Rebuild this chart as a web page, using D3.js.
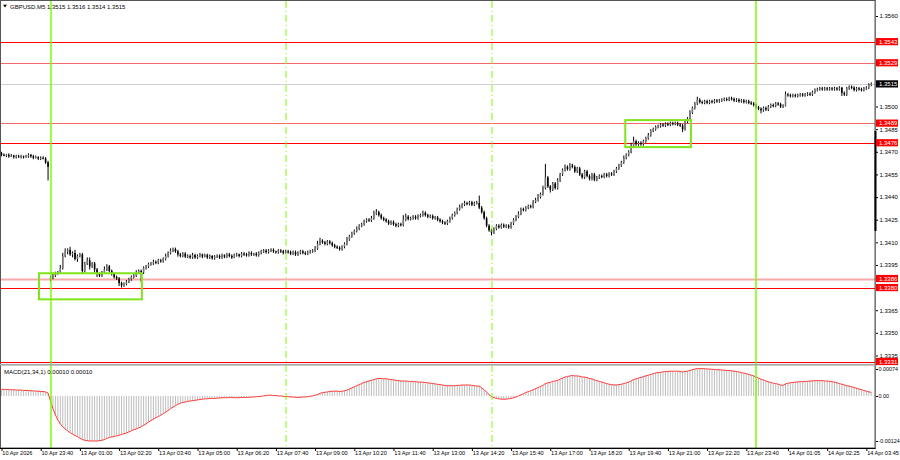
<!DOCTYPE html>
<html><head><meta charset="utf-8">
<script src="https://cdn.jsdelivr.net/npm/d3@7"></script>
<style>
body{margin:0;background:#fff}
svg{display:block}
text{font-family:"Liberation Sans",Arial,sans-serif;font-size:6px;fill:#000}
</style></head>
<body><svg id="c" width="900" height="460"></svg>
<script>
// ---------- DATA ----------
const symbolTitle = "GBPUSD,M5";
const lastOHLC = ["1.3515", "1.3516", "1.3514", "1.3515"];
const macdTitle = "MACD(21,34,1) 0.00010 0.00010";
const priceBase = 1.3;          // closes are in pips above this
const firstOpen = 469;          // open of the first bar (pips)
const gapIndex = 20;            // first Monday bar (weekend gap)
const gapOpen = 386;            // its open (pips)
const closes = [
468,467.5,468,467,467.5,466.5,467,466.5,467,466.5,
467,468,467,466,466.5,465.5,466,465.5,463,460,
386.5,388,389.5,390,393,401,404,405,402,403,
399,401,402,391,396,398,394,396,392,389,
388,390,392,394,391,389,387,386,383,381.5,
382.5,384,385.5,387,388,390.5,391,390,393,394,
395.5,396,397,396.5,398,397.5,399,401,403,404.5,
405.5,404,402,401,402.5,400.5,401,400,401.5,400,
401,402,400.5,401.5,400,401,399.5,400.5,401,400,
401.5,400.5,402,401,400,401.5,402,401,402.5,402,
401.5,403,402,402.5,401.5,403,404,404.5,403.5,404.5,
405,404,403.5,404.5,404,403,404,403.5,402.5,403.5,
402,403,404,403,402.5,403.5,404,404.5,406,409,
411,410,409,410.5,409.5,408,407,406.5,405.5,407,
409,412,414,416,417.5,419,421,422,424,425,
424.5,426,429,430,428,426,425,424,422.5,423.5,
422,421,422,421.5,425,427,425.5,426,427,426,
427.5,428,429.5,428,427,427.5,426,426.5,425,424,
423,422.5,424,426,428,429.5,432,433.5,435,436,
435.5,436.5,435,436,436,433,430,426,421,418,
416.5,419,421,420,421.5,420.5,421,420,422.5,425,
427,429,432,431.5,433,434,433.5,437,438,440,
442,446,453,447,445,449,446,451,455,458,
460,458.5,461,460,457,459,455,453,457,454,
452,455,451.5,453,454,453.5,455,454,455.5,455,
457,459,461,463,466,468,470,474,477,475,
476,475,477,479,481,484,485,486.5,487,488,
487.5,488.5,488,489,488.5,489,488,487.5,485,490,
492,496,499,502,504.5,503,502.5,503.5,502.5,503.5,
503,504,503.5,504,504.5,505,504.5,505.5,505,504,
504.5,503.5,504,503,503.5,502.5,502,501,499.5,498.5,
497.5,499,498,500,501,500.5,502,501.5,500,500.5,
508,507.5,507,507.5,507,507.5,508,507.5,508,508.5,
508,509.5,511,511.5,512,511.5,512,511.5,512,511.5,
512,511.5,512.5,509,508,512,513,512.5,511,512,
511.5,511,512,512.5,514.5,515
];
const wickUp = [
1,1,0.5,1,1,0.5,1,1,1,0.5,
1,1,0.5,1,1,0.5,1,1,1,1,
1.5,1,1,1,2,2,2,1,2,1,
2,1,1,1,1,2,2,1,1,1,
1,1,2,1.5,1,1,1,1,1,1,
1,1,1,1,1.5,1,1,1,1,1,
1,1,1.5,1,1,1,1,1.5,1,1.5,
1,1,1,1,1,1,1,1,1.5,1,
1,1,0.5,1,1,1,0.5,1,1,1,
1,0.5,1,1,1,1,1,0.5,1,1,
1,1,1,0.5,1,1,1,1,1,1,
1,1,0.5,1,1,1,1,1,1,1,
1,1,1,1,1,1,1,1,1.5,2,
2,1,1,1,1,1,1,1,1,1,
1,1.5,1,1,1,1.5,1,1,1,1,
1,1.5,2,2,1,1,1,1,1,1,
1,1,1,1,3,2,1,1,1,1,
1,1,1.5,1,1,1,1,1,1,1,
1,1,1,1,1,1,1,1.5,1,1.5,
1,1,1,1,1.5,5,1,1,1,1,
1,1,1,1,1,1,1,1,1,1,
1,1.5,1,1,1,1,1,1,1.5,2,
1,1.5,9,1,1,1,1,1.5,1,1,
1.5,1,1.5,1,1,1,1,1,1,1,
1,1,1,1,1,1,1,1,1,1,
1,1,1,1,1.5,1,1,2,3,1,
1,1,1,1,1.5,1,1,1,1,1,
1,1,1,1,1,1,1,1,1,1.5,
1,1.5,1,1,2,1,1,1,1,1,
1,1,1,1,1,1,1,1,1,1,
1,1,1,1,1,1,1,1,1,1,
1,1,1,1,1,1,1,1,1,1,
2,1,1,1,1,1,1,1,1,1,
1,1,1,1,1,1,1,1,1,1,
1,1,1,0.5,1,1,1,1,1,1,
1,1,1,1,1,1
];
const wickDn = [
1,0.5,1,1,0.5,1,1,0.5,1,1,
0.5,1,1,1,0.5,1,1,0.5,1,9,
2,1,1,1,1,1,1,2,1,2,
1,2,1,2,1,1,2,1,2,2,
1,1,1,1,1,1,1,1,2,1.5,
1,1,1,1,1,1,1,6.5,1,1,
1,1,1,1,1,1,1,1,1,1,
1,1,1.5,1,1,1,1,1,1,1,
1,1,1,0.5,1,1,1,1,1,1,
1,1,1,1,1,0.5,1,1,1,1,
1,1,1,1,1,1,1,1,1,1,
1,1,1,1,1,1,0.5,1,1,1,
1,1,1,1,1,1,1,1,1,1,
1,1,1,1,1,1,1,1,1,1,
1,1,1,1,1,1,1,1,1,1,
1,1,1,1,1,1,1,1,1,1,
1,1,1,1,1,1,1,1,1,1,
1,1,1,1,1,1,1,1,1,1,
1,1,1,1,1,1,1,1,1,1,
1,1,1,1,1,1,1,1,1,1,
2,1,1,1,1,1,1,1,1,1,
1,1,1,1,1,1,1,1,1,1,
1,1,1,1,2,1,1,1,1,1,
1,1,1,1,1,1,1,1,1,1,
1,1,1,1,1,1,1,1,1,1,
1,1,1,1,1,1,1,1,1,1,
1,1,1,1,1,1,1,1,1,1,
1,1,1,1,1,1,1,1,2,1,
1,1,1,1,1,1,1,1,1,1,
1,1,1,1,1,1,1,1,1,1,
1,1,1,1,1,1,1,1,1,1,
2,1,1,1,1,1,1,1,1,1,
0.5,1,1,1,1,1,1,1,1,1,
1,1,1,1,1,1,1,1,1,1,
1,1,1,2,1,1,1,1,1,1,
1,1,1,1,1,1
];
// MACD main line, in units of 0.00001
const macd = [
18,18,18,17,17,17,16,16,16,15,
15,15,14,14,13,13,12,12,11,8,
-15,-35,-52,-66,-77,-85,-91,-96,-101,-105,
-109,-112,-116,-120,-122,-123,-124,-124,-124,-124,
-123,-122,-120,-117,-114,-113,-111,-110,-108,-106,
-104,-102,-99,-96,-93,-91,-88,-85,-81,-77,
-72,-68,-64,-60,-57,-53,-49,-45,-40,-35,
-31,-27,-23,-20,-18,-17,-15,-14,-13,-12,
-11,-10,-9,-8,-8,-7,-7,-7,-6,-6,
-5,-5,-5,-4,-4,-5,-5,-5,-4,-4,
-4,-4,-3,-3,-2,-2,-1,0,1,2,
2,1,1,0,0,-1,-2,-2,-3,-3,
-4,-4,-4,-3,-3,-2,-1,0,2,4,
7,9,10,11,12,13,13,13,12,13,
14,16,19,22,25,28,31,34,37,39,
41,43,45,47,48,48,47,47,46,45,
44,43,42,41,41,41,40,40,39,39,
38,38,38,37,36,35,34,33,32,31,
30,29,28,28,28,28,29,29,30,30,
30,30,29,28,27,27,22,17,10,4,
-2,-5,-7,-8,-9,-9,-9,-8,-7,-5,
-3,0,3,6,9,12,14,17,20,23,
26,29,34,36,37,40,41,43,46,49,
52,53,55,56,55,55,54,52,52,50,
48,47,44,42,40,38,36,34,32,31,
30,30,31,32,34,36,38,41,45,47,
49,51,53,55,57,59,61,63,64,65,
66,67,67,68,68,68,68,67,66,67,
68,70,72,74,75,75,75,75,74,74,
73,73,72,72,71,71,70,70,69,68,
67,66,64,63,61,59,57,55,52,49,
46,44,41,39,37,35,34,32,30,29,
33,35,36,37,38,38,39,39,40,40,
41,41,42,42,42,42,41,41,40,39,
38,36,34,32,30,28,27,25,23,21,
19,17,15,13,11,10
];
// visible price-scale labels (the others are hidden behind level labels)
const priceTicks = [1.3560,1.3500,1.3485,1.3470,1.3455,1.3440,1.3425,1.3410,1.3395,1.3365,1.3350,1.3335];
const macdTicks = [74, 0, -124];
const macdTickLabels = ["0.00074", "0.00", "-0.00124"];
const timeTickBars = [0,16,32,48,64,80,96,112,128,144,160,176,192,208,224,240,256,272,288,304,321,337,353];
const timeTickLabels = ["10 Apr 2026","10 Apr 23:40","13 Apr 01:00","13 Apr 02:20","13 Apr 03:40","13 Apr 05:00","13 Apr 06:20","13 Apr 07:40","13 Apr 09:00","13 Apr 10:20","13 Apr 11:40","13 Apr 13:00","13 Apr 14:20","13 Apr 15:40","13 Apr 17:00","13 Apr 18:20","13 Apr 19:40","13 Apr 21:00","13 Apr 22:20","13 Apr 23:40","14 Apr 01:05","14 Apr 02:25","14 Apr 03:45"];
const levelPrices = [1.3543, 1.3529, 1.3489, 1.3476, 1.3386, 1.3380, 1.3331];
const levelKinds  = ["strong","light","light","strong","pink","strong","strong"];
const bidPrice = 1.3515;
const sessionBars = [20, 116, 200, 308];
const sessionDashed = [false, true, true, false];
const boxBarStart = [15.3, 254.6];
const boxBarEnd   = [57.3, 281.4];
const boxPriceTop = [1.33895, 1.3491];
const boxPriceBottom = [1.33722, 1.34731];
const scrollMarkPrices = [1.34838, 1.34175]; // dark segment on the price scale edge

// ---------- LAYOUT ----------
const svg = d3.select("#c");
const axisX = 875, mainTop = 1, mainBottom = 363, macdTop = 366, macdBottom = 448;
const x = d3.scaleLinear().domain([0, closes.length - 1]).range([1.5, 1.5 + 2.45 * (closes.length - 1)]);
const y = d3.scaleLinear().domain([1.3331, 1.3560]).range([361.5, 16]);
const ym = d3.scaleLinear().domain([-124, 74]).range([441, 369]);
const toPrice = p => priceBase + p / 10000;

const defs = svg.append("defs");
defs.append("clipPath").attr("id","cm").append("rect").attr("x",1).attr("y",mainTop).attr("width",axisX-1).attr("height",mainBottom-mainTop);
defs.append("clipPath").attr("id","cd").append("rect").attr("x",1).attr("y",macdTop).attr("width",axisX-1).attr("height",macdBottom-macdTop);

// bid line
svg.append("line").attr("x1",1).attr("x2",axisX).attr("y1",Math.round(y(bidPrice))+0.5).attr("y2",Math.round(y(bidPrice))+0.5)
  .attr("stroke","#d0d0d0").attr("stroke-width",1);

// level lines
const levelColor = {strong:"#ff0000", light:"#f46a6a", pink:"#f6a9a9"};
const levelWidth = {strong:1, light:1, pink:2};
levelPrices.forEach((p,k)=>{
  const yy = Math.round(y(p)) + 0.5;
  svg.append("line").attr("x1",1).attr("x2",axisX).attr("y1",yy).attr("y2",yy)
    .attr("stroke",levelColor[levelKinds[k]]).attr("stroke-width",levelWidth[levelKinds[k]]);
});

// candles
const candles = closes.map((c,i)=>{
  const o = i===0 ? firstOpen : (i===gapIndex ? gapOpen : closes[i-1]);
  return {i, o:toPrice(o), c:toPrice(c), h:toPrice(Math.max(o,c)+wickUp[i]), l:toPrice(Math.min(o,c)-wickDn[i])};
});
const gC = svg.append("g").attr("clip-path","url(#cm)");
gC.selectAll("line.w").data(candles).join("line").attr("class","w")
  .attr("x1",d=>x(d.i)).attr("x2",d=>x(d.i)).attr("y1",d=>y(d.h)).attr("y2",d=>y(d.l))
  .attr("stroke","#000").attr("stroke-width",1);
gC.selectAll("rect.b").data(candles).join("rect").attr("class","b")
  .attr("x",d=>x(d.i)-0.8).attr("width",1.6)
  .attr("y",d=>y(Math.max(d.o,d.c)))
  .attr("height",d=>Math.max(1, Math.abs(y(d.o)-y(d.c))))
  .attr("fill",d=>d.c>=d.o ? "#7a7a7a" : "#000");

// MACD histogram + line
const gM = svg.append("g").attr("clip-path","url(#cd)");
gM.selectAll("line").data(macd).join("line")
  .attr("x1",(d,i)=>x(i)).attr("x2",(d,i)=>x(i)).attr("y1",ym(0)).attr("y2",d=>ym(d))
  .attr("stroke","#bdbdbd").attr("stroke-width",1);
gM.append("path").datum(macd).attr("fill","none").attr("stroke","#ff3b3b").attr("stroke-width",1)
  .attr("d", d3.line().x((d,i)=>x(i)).y(d=>ym(d)));

// session vertical lines
sessionBars.forEach((b,k)=>{
  svg.append("line").attr("x1",Math.round(x(b))).attr("x2",Math.round(x(b))).attr("y1",mainTop).attr("y2",macdBottom)
    .attr("stroke","#7cfc00").attr("stroke-width",sessionDashed[k]?1:1.5)
    .attr("stroke-dasharray",sessionDashed[k]?"7,3,1,3":null);
});

// green boxes
boxBarStart.forEach((b,k)=>{
  svg.append("rect").attr("x",x(b)).attr("y",y(boxPriceTop[k]))
    .attr("width",x(boxBarEnd[k])-x(b)).attr("height",y(boxPriceBottom[k])-y(boxPriceTop[k]))
    .attr("fill","none").attr("stroke","#80e51a").attr("stroke-width",2);
});

// frame, separator
svg.append("rect").attr("x",0.5).attr("y",0.5).attr("width",axisX-0.5).attr("height",macdBottom-0.5)
  .attr("fill","none").attr("stroke","#555").attr("stroke-width",1);
svg.append("rect").attr("x",0).attr("y",363.8).attr("width",axisX).attr("height",1.8).attr("fill","#a8a8a8");

// right price axis
const ax = svg.append("g").attr("transform",`translate(${axisX},0)`)
  .call(d3.axisRight(y).tickValues(priceTicks).tickSize(3).tickPadding(1.5).tickFormat(d3.format(".4f")));
ax.select(".domain").remove();
ax.selectAll("text").style("font-size","6px").attr("fill","#000");
ax.selectAll("line").attr("stroke","#000");

// macd axis
const am = svg.append("g").attr("transform",`translate(${axisX},0)`)
  .call(d3.axisRight(ym).tickValues(macdTicks).tickSize(3).tickPadding(0.5).tickFormat((d,k)=>macdTickLabels[k]));
am.select(".domain").remove();
am.selectAll("text").style("font-size","5.4px");

// bottom time axis
const at = svg.append("g").attr("transform",`translate(0,${macdBottom})`)
  .call(d3.axisBottom(x).tickValues(timeTickBars).tickSize(3).tickFormat((d,k)=>timeTickLabels[k]));
at.select(".domain").remove();
at.selectAll("text").attr("text-anchor","start").attr("dx",0.3).attr("y",3).attr("dy","0.71em").style("font-size","5.6px");
at.selectAll("line").attr("stroke","#000");

// axis lines
svg.append("line").attr("x1",axisX+0.5).attr("x2",axisX+0.5).attr("y1",0).attr("y2",macdBottom+0.5).attr("stroke","#777");
svg.append("rect").attr("x",axisX-0.5).attr("y",y(scrollMarkPrices[0])).attr("width",2)
  .attr("height",y(scrollMarkPrices[1])-y(scrollMarkPrices[0])).attr("fill","#000");
svg.append("line").attr("x1",0).attr("x2",axisX+0.5).attr("y1",macdBottom+0.5).attr("y2",macdBottom+0.5).attr("stroke","#000");

// level labels on axis
levelPrices.forEach((p,k)=>{
  const yy = y(p);
  svg.append("rect").attr("x",axisX+1).attr("y",yy-3.6).attr("width",22).attr("height",7.2).attr("fill","#ff0000");
  svg.append("text").attr("x",axisX+4).attr("y",yy+2.1).style("fill","#fff").text(d3.format(".4f")(p));
});
// bid label
svg.append("rect").attr("x",axisX+1).attr("y",y(bidPrice)-3.6).attr("width",22).attr("height",7.2).attr("fill","#000");
svg.append("text").attr("x",axisX+4).attr("y",y(bidPrice)+2.1).style("fill","#fff").text(d3.format(".4f")(bidPrice));

// titles
svg.append("path").attr("d","M3,4.8 L7,4.8 L5,7.4 Z").attr("fill","#000");
svg.append("text").attr("x",10).attr("y",8.5).text(symbolTitle + " " + lastOHLC.join(" "));
svg.append("text").attr("x",4).attr("y",373.5).text(macdTitle);
</script></body></html>
